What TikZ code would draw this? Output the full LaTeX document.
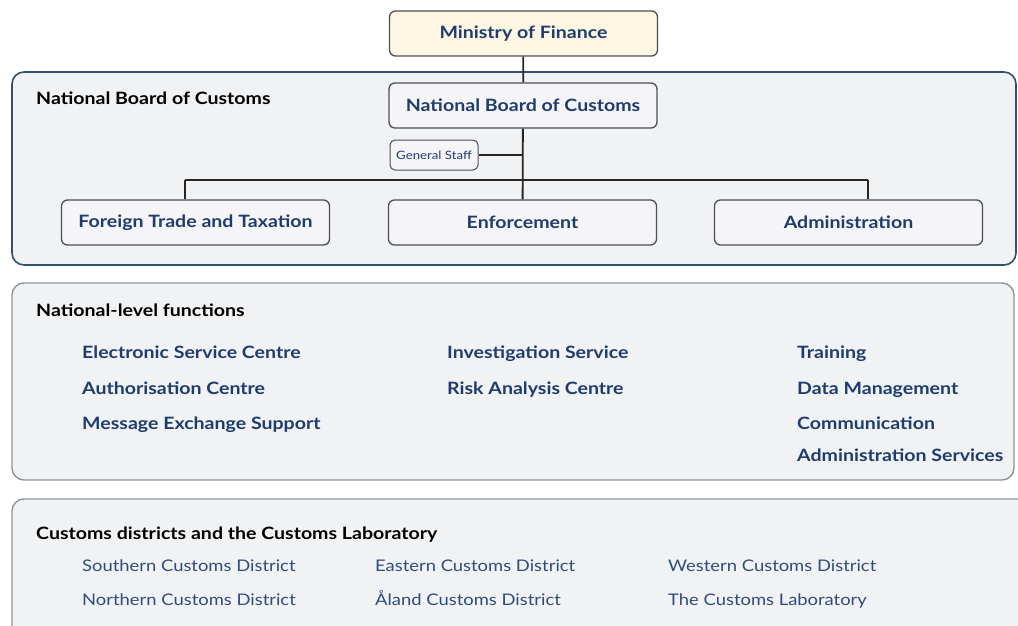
\documentclass[tikz,border=0pt]{standalone}
\usepackage{fontspec}
\setmainfont{Lato}[FakeStretch=1.15]
\usepackage{tikz}
\usepackage{xcolor}
\usetikzlibrary{positioning}
\definecolor{navy}{HTML}{1E3C6E}
\definecolor{paneledge}{HTML}{34506F}
\definecolor{panelgray}{HTML}{8E959D}
\definecolor{panelfill}{HTML}{F1F2F4}
\definecolor{boxedge}{HTML}{4B5058}
\definecolor{boxfill}{HTML}{F5F5F7}
\definecolor{cream}{HTML}{FCF6E3}
\definecolor{district}{HTML}{2E4C7E}
\tikzset{
    panel-box/.style = {draw=paneledge, fill=panelfill, line width=1.6pt, rounded corners=12pt},
    panel-box-gray/.style = {draw=panelgray, fill=panelfill, line width=1.4pt, rounded corners=12pt},
    org-box/.style = {draw=boxedge, fill=boxfill, line width=1.3pt, rectangle, rounded corners=6pt, minimum width=268pt, minimum height=45pt, inner sep=2pt, text=navy, font=\fontsize{17}{20}\selectfont\bfseries},
    staff-box/.style = {draw=boxedge, fill=boxfill, line width=1pt, rectangle, rounded corners=5pt, minimum width=88pt, minimum height=30pt, inner sep=1pt, text=navy, font=\fontsize{11.5}{13}\selectfont},
    panel-title/.style = {anchor=base west, inner sep=0pt, font=\fontsize{17}{20}\selectfont\bfseries},
    item-text/.style = {anchor=base west, inner sep=0pt, text=navy, font=\fontsize{17}{20}\selectfont\bfseries},
    district-text/.style = {anchor=base west, inner sep=0pt, text=district, font=\fontsize{16}{19}\selectfont},
    link/.style = {draw=black!85, line width=1.8pt},
}

\begin{document}
\begin{tikzpicture}[x=1pt, y=-1pt]
\useasboundingbox (0,0) rectangle (1018,626);
% background panels
\draw[panel-box] (12,72) rectangle (1016,265);
\draw[panel-box-gray] (12,283) rectangle (1014,480);
\draw[panel-box-gray] (12,499) rectangle (1030,660);

% top of the chart
\node[org-box, fill=cream] (mof) at (523.5,33.5) {Ministry of Finance};
\node[org-box] (nbc) at (523,105.5) {National Board of Customs};
\node[staff-box] (staff) at (434,155) {General Staff};
\node[org-box] (ftt) at (195.5,222.5) {Foreign Trade and Taxation};
\node[org-box] (enf) at (522.5,222.5) {Enforcement};
\node[org-box] (adm) at (848.5,222.5) {Administration};
\coordinate (busL) at (185,180);
\coordinate (busR) at (868,180);

\draw[link] (mof) -- (nbc);
\draw[link] (nbc) -- (enf);
\draw[link] (staff.east) -- (staff.east -| nbc.south);
\draw[link] (busL) -- (busR);
\draw[link] (busL) -- (busL |- ftt.north);
\draw[link] (busR) -- (busR |- adm.north);

% panel titles
\node[panel-title] (t-nbc) at (36,105) {National Board of Customs};
\node[panel-title] (t-nat) at (36,316) {National-level functions};
\node[panel-title] (t-dist) at (36,539) {Customs districts and the Customs Laboratory};

% national-level functions
\node[item-text] (esc) at (82,358) {Electronic Service Centre};
\node[item-text] (auc) at (82,394) {Authorisation Centre};
\node[item-text] (mes) at (82,429) {Message Exchange Support};
\node[item-text] (inv) at (447,358) {Investigation Service};
\node[item-text] (rac) at (447,394) {Risk Analysis Centre};
\node[item-text] (trn) at (797,358) {Training};
\node[item-text] (dat) at (797,394) {Data Management};
\node[item-text] (com) at (797,429) {Communication};
\node[item-text] (ads) at (797,461) {Administration Services};

% districts
\node[district-text] (sou) at (82,571) {Southern Customs District};
\node[district-text] (nor) at (82,605) {Northern Customs District};
\node[district-text] (eas) at (375,571) {Eastern Customs District};
\node[district-text] (ala) at (375,605) {Åland Customs District};
\node[district-text] (wes) at (668,571) {Western Customs District};
\node[district-text] (lab) at (668,605) {The Customs Laboratory};
\end{tikzpicture}
\end{document}
